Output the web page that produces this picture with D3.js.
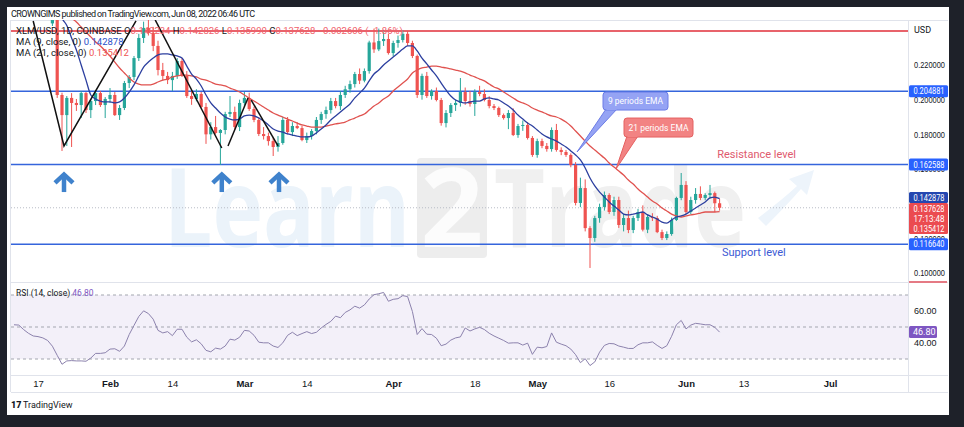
<!DOCTYPE html>
<html>
<head>
<meta charset="utf-8">
<script src="https://cdn.jsdelivr.net/npm/d3@7"></script>
<style>
html,body{margin:0;padding:0;background:#1e2129;}
svg{display:block;font-family:Roboto,"Open Sans",sans-serif;}
</style>
</head>
<body>
<svg width="964" height="427"></svg>
<script>
// daily candles from Jan 20, 2022
const candleStart = '2022-01-20';
const open  = [.2440,.2470,.2027,.1911,.2010,.1981,.1969,.2038,.1940,.1992,.2038,.1969,.2004,.2027,.1911,.1952,.2096,.2131,.2240,.2356,
               .2414,.2385,.2310,.2171,.2137,.2113,.2137,.2223,.2137,.2021,.2004,.2033,.1958,.1800,.1842,.1808,.1825,.1917,.1929,.1842,
               .1981,.2010,.1946,.1883,.1802,.1790,.1761,.1727,.1750,.1883,.1813,.1848,.1836,.1767,.1790,.1819,.1883,.1917,.1940,.1992,
               .1963,.2027,.2060,.2090,.2148,.2110,.2165,.2330,.2290,.2338,.2350,.2269,.2327,.2344,.2380,.2327,.2252,.2027,.2137,.2021,
               .2050,.1998,.1865,.1923,.1969,.1981,.2044,.1992,.1975,.2044,.2033,.1998,.1963,.1952,.1911,.1894,.1923,.1796,.1848,.1854,
               .1779,.1681,.1761,.1733,.1715,.1825,.1710,.1698,.1681,.1623,.1404,.1490,.1259,.1202,.1317,.1381,.1450,.1352,.1421,.1277,
               .1317,.1248,.1317,.1352,.1250,.1323,.1317,.1236,.1202,.1225,.1306,.1433,.1508,.1352,.1421,.1456,.1433,.1450,.1461,.140234];
const high  = [.2560,.2490,.2040,.2021,.2038,.2004,.2050,.2044,.2004,.2056,.2050,.2015,.2067,.2044,.1969,.2108,.2142,.2252,.2380,.2450,
               .2460,.2420,.2340,.2212,.2160,.2160,.2240,.2240,.2165,.2050,.2060,.2044,.1981,.1870,.1906,.1830,.1930,.2021,.1960,.2000,
               .2044,.2040,.1960,.1900,.1842,.1810,.1780,.1790,.1900,.1900,.1870,.1870,.1850,.1810,.1830,.1900,.1930,.1960,.2010,.2010,
               .2050,.2080,.2110,.2160,.2180,.2180,.2340,.2410,.2410,.2400,.2380,.2340,.2370,.2400,.2396,.2340,.2260,.2150,.2160,.2060,
               .2070,.2010,.1940,.1980,.2000,.2125,.2070,.2050,.2060,.2080,.2060,.2020,.1975,.1960,.1920,.1940,.1950,.1860,.1880,.1870,
               .1790,.1775,.1775,.1750,.1840,.1860,.1725,.1710,.1690,.1640,.1550,.1540,.1270,.1330,.1400,.1470,.1460,.1440,.1440,.1340,
               .1360,.1330,.1370,.1390,.1340,.1345,.1330,.1250,.1240,.1320,.1440,.1577,.1530,.1440,.1490,.1500,.1460,.1508,.1470,.142826];
const low   = [.2425,.2010,.1704,.1733,.1727,.1935,.1894,.1923,.1894,.1969,.1958,.1894,.1981,.1906,.1883,.1940,.2067,.2113,.2223,.2327,
               .2370,.2280,.2140,.2110,.2090,.2050,.2120,.2131,.2010,.1970,.1990,.1952,.1745,.1770,.1800,.1623,.1800,.1900,.1825,.1819,
               .1960,.1935,.1870,.1790,.1770,.1735,.1675,.1700,.1740,.1800,.1790,.1830,.1760,.1750,.1770,.1800,.1860,.1890,.1920,.1950,
               .1940,.2010,.2040,.2070,.2090,.2100,.2150,.2270,.2280,.2310,.2260,.2250,.2300,.2330,.2310,.2240,.2010,.2000,.2010,.2000,
               .1990,.1850,.1840,.1900,.1935,.1960,.1970,.1960,.1906,.2020,.1990,.1950,.1940,.1900,.1885,.1830,.1790,.1780,.1820,.1770,
               .1670,.1665,.1720,.1700,.1700,.1700,.1680,.1670,.1610,.1390,.1380,.1240,.1029,.1180,.1290,.1360,.1340,.1330,.1260,.1240,
               .1230,.1230,.1300,.1240,.1230,.1300,.1230,.1190,.1190,.1215,.1300,.1420,.1340,.1340,.1400,.1420,.1420,.1430,.1352,.135990];
const close = [.2470,.2027,.1911,.2010,.1981,.1969,.2038,.1940,.1992,.2038,.1969,.2004,.2027,.1911,.1952,.2096,.2131,.2240,.2356,.2414,
               .2385,.2310,.2171,.2137,.2113,.2137,.2223,.2137,.2021,.2004,.2033,.1958,.1800,.1842,.1808,.1825,.1917,.1929,.1842,.1981,
               .2010,.1946,.1883,.1802,.1790,.1761,.1727,.1750,.1883,.1813,.1848,.1836,.1767,.1790,.1819,.1883,.1917,.1940,.1992,.1963,
               .2027,.2060,.2090,.2148,.2110,.2165,.2330,.2290,.2338,.2350,.2269,.2327,.2344,.2380,.2327,.2252,.2027,.2137,.2021,.2050,
               .1998,.1865,.1923,.1969,.1981,.2044,.1992,.1975,.2044,.2033,.1998,.1963,.1952,.1911,.1894,.1923,.1796,.1848,.1854,.1779,
               .1681,.1761,.1733,.1715,.1825,.1710,.1698,.1681,.1623,.1404,.1490,.1259,.1202,.1317,.1381,.1450,.1352,.1421,.1277,.1317,
               .1248,.1317,.1352,.1250,.1323,.1317,.1236,.1202,.1225,.1306,.1433,.1508,.1352,.1421,.1456,.1433,.1450,.1461,.140234,.137628];

// indicator series, daily from Jan 12, 2022
const lineStart = '2022-01-12';
const ema9  = [.272,.273,.273,.273,.272,.270,.268,.265,.261,.2545,
               .2470,.2428,.2356,.2287,.2200,.2113,.2027,.2004,.1992,.1987,
               .1987,.1981,.1987,.2010,.2044,.2085,.2137,.2188,.2217,.2240,
               .2258,.2264,.2264,.2258,.2252,.2240,.2194,.2148,.2119,.2079,
               .2027,.1981,.1952,.1923,.1900,.1888,.1883,.1888,
               .1906,.1911,.1906,.1894,.1877,.1854,.1831,.1819,.1813,.1802,
               .1796,.1790,.1785,.1785,.1790,.1808,.1831,.1854,.1883,.1906,
               .1929,.1952,.1975,.2010,.2038,.2067,.2108,.2148,.2171,.2200,.2223,
               .2246,.2269,.2292,.2310,.2310,.2281,.2240,.2206,.2171,.2137,
               .2096,.2056,.2021,.1998,.1987,.1981,.1987,.1992,.1992,.2004,
               .2010,.2004,.1998,.1981,.1963,.1940,.1911,.1888,.1865,.1848,
               .1825,.1802,.1785,.1773,.1761,.1744,.1727,.1704,.1681,.1652,
               .1606,.1548,.1502,.1467,.1438,.1410,.1386,.1363,.1340,.1335,
               .1340,.1346,.1352,.1335,.1323,.1311,.1294,.1288,.1306,.1323,.1329,
               .1340,.1358,.1375,.1392,.1410,.1433,.1438,.142878];
const ema21 = [.262,.262,.261,.261,.260,.260,.259,.258,.257,.255,
               .2525,.2500,.2471,.2448,.2419,.2390,.2362,.2333,.2310,.2281,
               .2252,.2217,.2183,.2154,.2125,.2102,.2090,.2085,.2085,.2090,
               .2102,.2113,.2119,.2131,.2137,.2142,.2142,.2137,.2131,.2119,
               .2113,.2102,.2090,.2085,.2079,.2067,.2056,.2044,
               .2027,.2010,.1992,.1975,.1958,.1940,.1923,.1911,.1900,.1888,
               .1877,.1865,.1854,.1848,.1842,.1842,.1842,.1848,.1854,.1860,
               .1865,.1871,.1883,.1894,.1906,.1917,.1940,.1963,.1981,.2004,.2021,
               .2050,.2073,.2096,.2119,.2154,.2171,.2183,.2188,.2194,.2194,
               .2188,.2183,.2177,.2171,.2165,.2154,.2142,.2131,.2119,.2108,
               .2090,.2073,.2062,.2044,.2027,.2010,.1992,.1981,.1969,.1952,
               .1940,.1929,.1917,.1906,.1900,.1888,.1871,.1848,.1819,.1790,
               .1761,.1733,.1710,.1686,.1663,.1635,.1611,.1588,.1565,.1536,
               .1513,.1485,.1461,.1438,.1415,.1398,.1375,.1358,.1340,.1329,.1323,
               .1329,.1335,.1340,.1346,.1352,.1352,.1352,.135412];
const rsi   = [51.4,51.2,48.4,46.1,44.4,44.0,43.2,41.6,38.0,32.3,
               26.7,28.8,29.0,28.8,28.8,28.6,30.6,33.5,33.5,33.9,
               36.2,36.4,34.8,38.1,45.3,51.0,56.6,60.1,58.4,54.9,
               47.9,46.3,47.1,44.6,48.6,48.6,43.6,40.7,42.0,39.5,
               35.4,34.5,36.8,36.2,38.1,42.4,41.8,43.6,47.9,47.5,
               44.8,40.5,40.1,40.1,38.1,37.2,40.1,44.8,46.7,44.6,
               45.9,47.1,45.9,46.7,49.4,51.6,53.5,56.8,55.8,59.1,
               60.7,63.0,61.8,63.8,67.5,70.2,70.8,71.6,66.1,67.3,
               67.7,69.6,69.0,59.7,45.3,49.0,45.5,45.3,43.0,38.3,
               39.3,41.8,43.2,43.8,49.4,47.5,48.8,49.8,48.4,46.1,
               44.4,43.0,41.6,39.9,40.1,40.1,38.7,39.9,32.9,37.4,
               37.0,37.8,46.3,40.5,39.3,38.3,36.2,32.7,27.7,30.2,
               25.9,28.2,34.3,38.5,39.7,39.5,38.1,37.4,36.6,36.6,
               38.9,40.1,40.1,40.7,38.5,36.6,38.3,44.2,51.4,54.1,
               48.8,51.2,52.3,51.9,51.4,51.4,49.8,46.8];

const priceTicks = [0.10, 0.12, 0.14, 0.16, 0.18, 0.20, 0.22];
const rsiTicks = [40, 60];
const rsiLevels = [70, 50, 30];
const timeTicks = ['2022-01-17','2022-02-01','2022-02-14','2022-03-01','2022-03-14','2022-04-01',
                   '2022-04-18','2022-05-01','2022-05-16','2022-06-01','2022-06-13','2022-07-01'];
const timeLabels = ['17','Feb','14','Mar','14','Apr','18','May','16','Jun','13','Jul'];

const blueLevels = [0.204881, 0.162588, 0.116640];
const redLevel = 0.2396;

// drawing tools on the chart
const zigzags = [
    [['2022-01-16T00:00', .2454], ['2022-01-22T10:00', .1733], ['2022-02-06T10:00', .2454]],
    [['2022-02-10T10:00', .2460], ['2022-02-24T07:00', .1721]],
    [['2022-02-25T14:00', .1733], ['2022-03-01T18:00', .2010]],
    [['2022-03-02T10:00', .1998], ['2022-03-08T00:00', .1733]]
];
const arrowDates = ['2022-01-22T10:00', '2022-02-24T07:00', '2022-03-08T05:00'];
const arrowTop = .1577, arrowBottom = .1467;

function Start(){
    const svg = d3.select('svg');

    const plotL = 11, plotR = 908, paneTop = 20, paneBottom = 282;
    const rsiBottom = 375, axisBottom = 392;
    const dark = '#131722';
    const green = '#26a69a', red = '#ef5350';

    const parseDay = d3.utcParse('%Y-%m-%d');
    const parseTime = d3.utcParse('%Y-%m-%dT%H:%M');

    const xscale = d3.scaleUtc()
        .domain([Date.UTC(2022, 0, 11, 9), Date.UTC(2022, 6, 17, 6)])
        .range([plotL, plotR]);
    const yscale = d3.scaleLinear().domain([0.10, 0.22]).range([273, 65]);
    const rscale = d3.scaleLinear().domain([30, 70]).range([359, 295]);

    const candles = open.map((o, i) => ({
        date: d3.utcDay.offset(parseDay(candleStart), i),
        o: o, h: high[i], l: low[i], c: close[i]
    }));
    const lineDate = i => d3.utcDay.offset(parseDay(lineStart), i);

    // white card
    svg.append('rect').attr('x', 7).attr('y', 7).attr('width', 942).attr('height', 408).attr('fill', '#fff');

    svg.append('text').attr('x', 11).attr('y', 16.5)
        .attr('font-size', 9).attr('fill', dark).attr('textLength', 244)
        .text('CROWNGIMS published on TradingView.com, Jun 08, 2022 06:46 UTC');

    const defs = svg.append('defs');
    defs.append('clipPath').attr('id', 'pane')
        .append('rect').attr('x', plotL).attr('y', paneTop).attr('width', plotR - plotL).attr('height', paneBottom - paneTop);

    // frame lines
    const frame = svg.append('g').attr('stroke', '#e0e3eb').attr('stroke-width', 1);
    frame.append('line').attr('x1', plotL).attr('x2', 948).attr('y1', paneTop + .5).attr('y2', paneTop + .5);
    frame.append('line').attr('x1', plotL).attr('x2', 948).attr('y1', paneBottom + .5).attr('y2', paneBottom + .5);
    frame.append('line').attr('x1', plotL).attr('x2', 948).attr('y1', rsiBottom + .5).attr('y2', rsiBottom + .5);
    frame.append('line').attr('x1', plotL).attr('x2', 948).attr('y1', axisBottom + .5).attr('y2', axisBottom + .5);
    frame.append('line').attr('x1', plotR + .5).attr('x2', plotR + .5).attr('y1', paneTop).attr('y2', axisBottom);
    frame.append('line').attr('x1', plotL - .5).attr('x2', plotL - .5).attr('y1', paneTop).attr('y2', axisBottom);

    const g = svg.append('g').attr('clip-path', 'url(#pane)');

    // Learn2Trade watermark
    const wm = g.append('g').attr('font-family', '"Open Sans", sans-serif').attr('font-weight', 700).attr('font-size', 110);
    wm.append('text').attr('x', 164).attr('y', 247).attr('fill', '#ebf3fa')
        .attr('textLength', 246).attr('lengthAdjust', 'spacingAndGlyphs').text('Learn');
    wm.append('rect').attr('x', 417).attr('y', 158).attr('width', 70).attr('height', 100).attr('rx', 4).attr('fill', '#ededed');
    wm.append('text').attr('x', 452).attr('y', 247).attr('text-anchor', 'middle').attr('fill', '#fcfcfc').text('2');
    wm.append('text').attr('x', 494).attr('y', 247).attr('fill', '#f0f0f0')
        .attr('textLength', 252).attr('lengthAdjust', 'spacingAndGlyphs').text('Trade');
    wm.append('path').attr('fill', '#edf4fb')
        .attr('d', 'M758,218 Q782,200 797,186 L789,179 L814,170 L807,195 L801,189 Q786,206 766,226 Z');

    // horizontal levels
    g.append('line').attr('x1', plotL).attr('x2', plotR)
        .attr('y1', yscale(redLevel)).attr('y2', yscale(redLevel))
        .attr('stroke', '#e8636b').attr('stroke-width', 2);
    g.selectAll('line.level').data(blueLevels).enter().append('line')
        .attr('class', 'level')
        .attr('x1', plotL).attr('x2', plotR)
        .attr('y1', d => yscale(d)).attr('y2', d => yscale(d))
        .attr('stroke', '#3565dc').attr('stroke-width', 1.5);

    // last price line
    const last = close[close.length - 1];
    g.append('line').attr('x1', plotL).attr('x2', plotR)
        .attr('y1', yscale(last)).attr('y2', yscale(last))
        .attr('stroke', '#b8bcc6').attr('stroke-dasharray', '1,2');

    // candles
    const colorOf = d => d.c >= d.o ? green : red;
    g.selectAll('line.wick').data(candles).enter().append('line')
        .attr('class', 'wick')
        .attr('x1', d => xscale(d.date)).attr('x2', d => xscale(d.date))
        .attr('y1', d => yscale(d.h)).attr('y2', d => yscale(d.l))
        .attr('stroke', colorOf).attr('stroke-width', 1);
    g.selectAll('rect.body').data(candles).enter().append('rect')
        .attr('class', 'body')
        .attr('x', d => xscale(d.date) - 1.6)
        .attr('width', 3.2)
        .attr('y', d => yscale(Math.max(d.o, d.c)))
        .attr('height', d => Math.max(1, Math.abs(yscale(d.o) - yscale(d.c))))
        .attr('fill', colorOf);

    // moving averages
    const emaLine = d3.line()
        .x((d, i) => xscale(lineDate(i)))
        .y(d => yscale(d))
        .curve(d3.curveMonotoneX);
    g.append('path').datum(ema21).attr('d', emaLine)
        .attr('fill', 'none').attr('stroke', '#e0524f').attr('stroke-width', 1.3);
    g.append('path').datum(ema9).attr('d', emaLine)
        .attr('fill', 'none').attr('stroke', '#2c3f9f').attr('stroke-width', 1.3);

    // black trend drawings
    const drawLine = d3.line()
        .x(d => xscale(parseTime(d[0])))
        .y(d => yscale(d[1]));
    g.selectAll('path.zig').data(zigzags).enter().append('path')
        .attr('class', 'zig')
        .attr('d', drawLine)
        .attr('fill', 'none').attr('stroke', '#111').attr('stroke-width', 1.5);

    // blue arrows
    const arrows = g.selectAll('g.arrow').data(arrowDates).enter().append('g')
        .attr('class', 'arrow')
        .attr('transform', d => `translate(${xscale(parseTime(d))},0)`)
        .attr('fill', 'none').attr('stroke', '#3f82cc').attr('stroke-width', 4.5);
    arrows.append('path')
        .attr('d', `M-9,${yscale(arrowTop) + 10}L0,${yscale(arrowTop) + 1.5}L9,${yscale(arrowTop) + 10}`);
    arrows.append('line')
        .attr('x1', 0).attr('x2', 0)
        .attr('y1', yscale(arrowTop) + 3).attr('y2', yscale(arrowBottom));

    // EMA call-outs
    const callout = (tip, box, w, h, fill, stroke, label) => {
        const tx = xscale(parseTime(tip[0])), ty = yscale(tip[1]);
        const bx = xscale(parseTime(box[0])), by = yscale(box[1]);
        const c = svg.append('g');
        c.append('path')
            .attr('d', `M${bx + 3},${by + h - 1}L${tx},${ty}L${bx + 14},${by + h - 1}Z`)
            .attr('fill', fill).attr('stroke', stroke).attr('stroke-width', 1);
        c.append('rect').attr('x', bx).attr('y', by).attr('width', w).attr('height', h).attr('rx', 3)
            .attr('fill', fill).attr('stroke', stroke).attr('stroke-width', 1);
        c.append('path')
            .attr('d', `M${bx + 3.5},${by + h - 1}L${bx + 13.5},${by + h - 1}`)
            .attr('stroke', fill).attr('stroke-width', 2);
        c.append('text').attr('x', bx + w / 2).attr('y', by + h / 2 + 3.2)
            .attr('text-anchor', 'middle').attr('font-size', 8.5).attr('fill', '#fff')
            .text(label);
    };
    callout(['2022-05-09T07:00', .1698], ['2022-05-14T17:00', .2044], 65, 18, '#95a3f4', '#6c7ce6', '9 periods EMA');
    callout(['2022-05-17T10:00', .1600], ['2022-05-19T02:00', .1894], 69, 19, '#f28383', '#e56060', '21 periods EMA');

    svg.append('text')
        .attr('x', xscale(parseTime('2022-06-07T12:00'))).attr('y', yscale(.1686) + 4)
        .attr('font-size', 11).attr('fill', '#e05a6e').text('Resistance level');
    svg.append('text')
        .attr('x', xscale(parseTime('2022-06-08T12:00'))).attr('y', yscale(.1121) + 4)
        .attr('font-size', 11).attr('fill', '#3c5ad4').text('Support level');

    // legend
    const legend = svg.append('g').attr('font-size', 9.5);
    const l1 = legend.append('text').attr('x', 16).attr('y', 34.3).attr('fill', dark);
    l1.append('tspan').text('XLM/USD, 1D, COINBASE  O');
    l1.append('tspan').attr('fill', '#f0606a').text('0.140234');
    l1.append('tspan').text('  H');
    l1.append('tspan').attr('fill', '#f0606a').text('0.142826');
    l1.append('tspan').text('  L');
    l1.append('tspan').attr('fill', '#f0606a').text('0.135990');
    l1.append('tspan').text('  C');
    l1.append('tspan').attr('fill', '#f0606a').text('0.137628  −0.002606 (−1.86%)');
    const l2 = legend.append('text').attr('x', 16).attr('y', 45).attr('fill', dark);
    l2.append('tspan').text('MA (9, close, 0)  ');
    l2.append('tspan').attr('fill', '#2950c8').text(ema9[ema9.length - 1].toFixed(6));
    const l3 = legend.append('text').attr('x', 16).attr('y', 55.7).attr('fill', dark);
    l3.append('tspan').text('MA (21, close, 0)  ');
    l3.append('tspan').attr('fill', '#ef5350').text(ema21[ema21.length - 1].toFixed(6));

    // price axis
    const yAxis = svg.append('g').attr('transform', `translate(${plotR},0)`)
        .call(d3.axisRight(yscale).tickValues(priceTicks).tickFormat(d3.format('.6f')).tickSize(0).tickPadding(6));
    yAxis.select('.domain').remove();
    yAxis.selectAll('text').attr('font-size', 9).attr('fill', dark)
        .attr('textLength', 31).attr('lengthAdjust', 'spacingAndGlyphs');
    svg.append('text').attr('x', 914).attr('y', 32.5).attr('font-size', 9).attr('fill', dark).text('USD');
    svg.append('line').attr('x1', plotR + 1).attr('x2', 947).attr('y1', paneBottom).attr('y2', paneBottom)
        .attr('stroke', '#e57a84').attr('stroke-width', 2);

    const tag = (cy, h, color, lines) => {
        const t = svg.append('g');
        t.append('rect').attr('x', plotR + 1).attr('y', cy - h / 2).attr('width', 39).attr('height', h)
            .attr('rx', 1.5).attr('fill', color);
        lines.forEach((s, i) => {
            t.append('text').attr('x', 913.5).attr('y', cy - h / 2 + 9 + i * 10)
                .attr('font-size', 9).attr('fill', '#fff')
                .attr('textLength', 31).attr('lengthAdjust', 'spacingAndGlyphs').text(s);
        });
    };
    tag(yscale(blueLevels[0]), 12, '#2962ff', [blueLevels[0].toFixed(6)]);
    tag(yscale(blueLevels[1]), 12, '#2962ff', [blueLevels[1].toFixed(6)]);
    tag(yscale(blueLevels[2]), 12, '#2962ff', [blueLevels[2].toFixed(6)]);
    tag(yscale(ema9[ema9.length - 1]) - 1.3, 11, '#2447b0', [ema9[ema9.length - 1].toFixed(6)]);
    tag(yscale(last) + 10.8, 31, '#eb4b50', [last.toFixed(6), '17:13:48', ema21[ema21.length - 1].toFixed(6)]);

    // RSI pane
    const rg = svg.append('g');
    rg.append('rect').attr('x', plotL).attr('width', plotR - plotL)
        .attr('y', rscale(70)).attr('height', rscale(30) - rscale(70))
        .attr('fill', '#7e57c2').attr('fill-opacity', 0.09);
    rg.selectAll('line.rl').data(rsiLevels).enter().append('line')
        .attr('class', 'rl')
        .attr('x1', plotL).attr('x2', plotR)
        .attr('y1', d => rscale(d)).attr('y2', d => rscale(d))
        .attr('stroke', '#a3a6af').attr('stroke-dasharray', '3,3');
    const rsiLine = d3.line()
        .x((d, i) => xscale(lineDate(i)))
        .y(d => rscale(d));
    rg.append('path').datum(rsi).attr('d', rsiLine)
        .attr('fill', 'none').attr('stroke', '#8c82ad').attr('stroke-width', 1);
    const rl = rg.append('text').attr('x', 16).attr('y', 296).attr('font-size', 8.5).attr('fill', dark);
    rl.append('tspan').text('RSI (14, close)  ');
    rl.append('tspan').attr('fill', '#7e57c2').text(rsi[rsi.length - 1].toFixed(2));

    const rAxis = svg.append('g').attr('transform', `translate(${plotR},0)`)
        .call(d3.axisRight(rscale).tickValues(rsiTicks).tickFormat(d3.format('.2f')).tickSize(0).tickPadding(6));
    rAxis.select('.domain').remove();
    rAxis.selectAll('text').attr('font-size', 9).attr('fill', dark);
    const rv = rscale(rsi[rsi.length - 1]);
    svg.append('rect').attr('x', plotR + 1).attr('y', rv - 6).attr('width', 28).attr('height', 12)
        .attr('rx', 1.5).attr('fill', '#7e57c2');
    svg.append('text').attr('x', 913).attr('y', rv + 3.3).attr('font-size', 9).attr('fill', '#fff')
        .text(rsi[rsi.length - 1].toFixed(2));

    // time axis
    const xAxis = svg.append('g').attr('transform', `translate(0,${rsiBottom})`)
        .call(d3.axisBottom(xscale).tickValues(timeTicks.map(parseDay))
            .tickFormat((d, i) => timeLabels[i]).tickSize(0).tickPadding(5));
    xAxis.select('.domain').remove();
    xAxis.selectAll('text').attr('font-size', 9.5).attr('fill', dark)
        .attr('font-weight', (d, i) => isNaN(+timeLabels[i]) ? 600 : 400);

    // footer
    svg.append('text').attr('x', 11).attr('y', 407.5).attr('font-size', 9).attr('font-weight', 900)
        .attr('fill', dark).text('17');
    svg.append('text').attr('x', 23).attr('y', 407.5).attr('font-size', 9).attr('fill', dark).text('TradingView');
}

Start();
</script>
</body>
</html>
